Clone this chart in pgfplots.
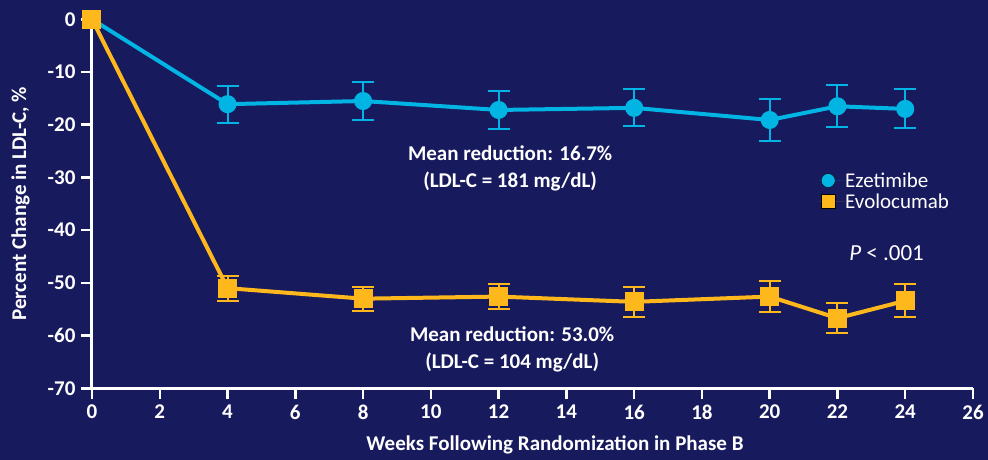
\documentclass[border=0pt]{standalone}
\usepackage{pgfplots}
\pgfplotsset{compat=1.18}
\usepackage{fontspec}
\setmainfont{Carlito}
\definecolor{bgc}{RGB}{24,26,94}
\definecolor{ezc}{RGB}{0,180,228}
\definecolor{evc}{RGB}{255,184,28}
\pgfplotstableread{
x y e
0 0 0
4 -16.1 3.5
8 -15.5 3.55
12 -17.2 3.6
16 -16.8 3.5
20 -19.1 3.9
22 -16.5 4.0
24 -17.0 3.7
}\eze
\pgfplotstableread{
x y e
0 0 0
4 -51.0 2.35
8 -53.0 2.3
12 -52.6 2.35
16 -53.6 2.9
20 -52.6 2.9
22 -56.7 2.9
24 -53.4 3.1
}\evo
\begin{document}
\begin{tikzpicture}
\fill[bgc] (0pt,0pt) rectangle (988pt,460pt);
\begin{axis}[
 at={(92pt,71.7pt)}, anchor=south west, scale only axis, width=881pt, height=369pt,
 xmin=0, xmax=26, ymin=-70, ymax=0, clip=false,
 axis x line*=bottom, axis y line*=left,
 axis line style={-, white, line width=3pt},
 xtick={0,2,...,26}, xticklabels={0,2,4,6,8,10,12,14,16,18,20,22,24,26},
 ytick={-70,-60,...,0}, yticklabels={-70,-60,-50,-40,-30,-20,-10,0},
 tick align=outside, major tick length=11pt,
 tick style={white, line width=2.5pt},
 ticklabel style={font=\fontsize{21}{25}\selectfont\bfseries, text=white},
 yticklabel style={xshift=-2pt},
 xticklabel style={yshift=-2pt},
 xlabel={Weeks Following Randomization in Phase B},
 ylabel={Percent Change in LDL-C, \%},
 label style={font=\fontsize{21}{25}\selectfont\bfseries, text=white},
 xlabel style={at={(axis description cs:0.5255,-0.1545)}, anchor=center},
 ylabel style={at={(axis description cs:-0.0812,0.5)}, anchor=center},
 legend style={at={(axis description cs:0.8218,0.5908)}, anchor=north west, draw=none, fill=none, text=white,
   font=\fontsize{21}{25}\selectfont, row sep=5pt, nodes={inner sep=0pt}},
 legend cell align=left,
 legend image code/.code={\draw[#1] plot coordinates {(9pt,0pt)}; \path (0pt,0pt) -- (26pt,0pt);},
]
% Ezetimibe
\addplot[forget plot, draw=none, mark=none, skip coords between index={0}{1},
  error bars/.cd, y dir=both, y explicit,
  error bar style={draw=ezc, line width=2pt},
  error mark options={rotate=90, mark size=11pt, draw=ezc, line width=2pt}]
  table[x=x, y=y, y error=e] {\eze};
\addplot[forget plot, ezc, line width=4pt, mark=*, mark size=7pt, mark options={draw=none, fill=ezc}]
  table[x=x, y=y] {\eze};
% Evolocumab
\addplot[forget plot, draw=none, mark=none, skip coords between index={0}{1},
  error bars/.cd, y dir=both, y explicit,
  error bar style={draw=evc, line width=2pt},
  error mark options={rotate=90, mark size=11pt, draw=evc, line width=2pt}]
  table[x=x, y=y, y error=e] {\evo};
\addplot[forget plot, evc, line width=4pt, mark=square*, mark size=7.5pt, mark options={draw=none, fill=evc}]
  table[x=x, y=y] {\evo};
\addlegendimage{only marks, mark=*, mark size=7pt, draw=none, fill=ezc}
\addlegendentry{Ezetimibe}
\addlegendimage{only marks, mark=square*, mark size=7pt, draw=none, fill=evc}
\addlegendentry{Evolocumab}
\node[align=center, text=white, font=\fontsize{21}{27}\selectfont\bfseries] at (axis cs:12.34,-28.2)
  {Mean reduction: 16.7\%\\(LDL-C = 181 mg/dL)};
\node[align=center, text=white, font=\fontsize{21}{27}\selectfont\bfseries] at (axis cs:12.4,-62.7)
  {Mean reduction: 53.0\%\\(LDL-C = 104 mg/dL)};
\node[text=white, font=\fontsize{23}{27}\selectfont] at (axis cs:23.45,-44.3) {\textit{P} < .001};
\end{axis}
\pgfresetboundingbox
\useasboundingbox (0pt,0pt) rectangle (988pt,460pt);
\end{tikzpicture}
\end{document}
